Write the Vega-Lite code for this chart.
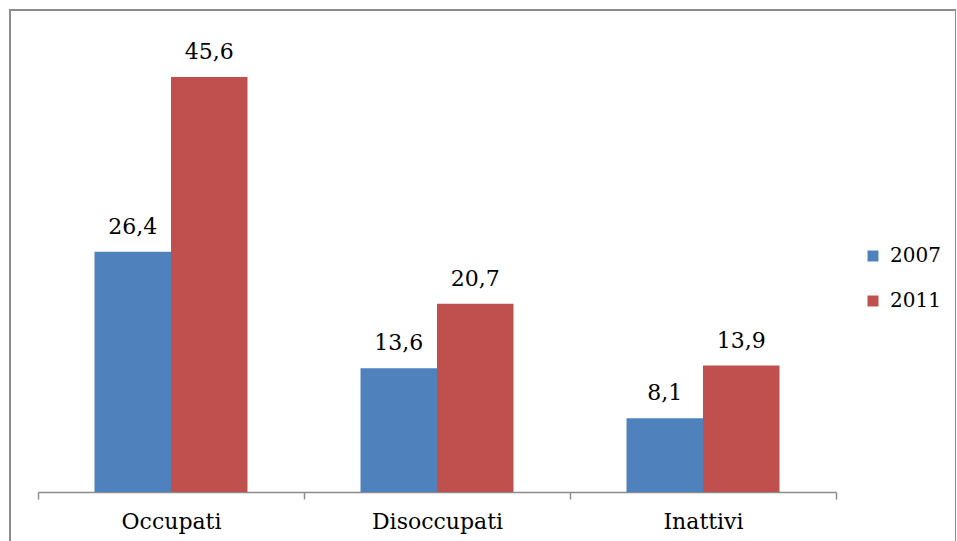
{
  "$schema": "https://vega.github.io/schema/vega-lite/v6.json",
  "autosize": {"type": "none"},
  "padding": {"left": 10, "top": 10, "right": 0, "bottom": 0},
  "width": 946,
  "height": 540,
  "background": "white",
  "config": {
    "view": {"stroke": "#8c8c8c", "strokeWidth": 2},
    "font": "DejaVu Serif"
  },
  "data": {
    "values": [
      {"category": "Occupati", "year": "2007", "value": 26.4, "label": "26,4"},
      {"category": "Occupati", "year": "2011", "value": 45.6, "label": "45,6"},
      {"category": "Disoccupati", "year": "2007", "value": 13.6, "label": "13,6"},
      {"category": "Disoccupati", "year": "2011", "value": 20.7, "label": "20,7"},
      {"category": "Inattivi", "year": "2007", "value": 8.1, "label": "8,1"},
      {"category": "Inattivi", "year": "2011", "value": 13.9, "label": "13,9"}
    ]
  },
  "encoding": {
    "x": {
      "field": "category",
      "type": "nominal",
      "sort": ["Occupati", "Disoccupati", "Inattivi"],
      "scale": {"range": [28, 826], "paddingInner": 0, "paddingOuter": 0},
      "axis": {
        "title": null,
        "orient": "bottom",
        "offset": -58,
        "labelAngle": 0,
        "tickBand": "extent",
        "domainColor": "#8c8c8c",
        "domainWidth": 1.5,
        "tickColor": "#8c8c8c",
        "tickWidth": 1.5,
        "tickSize": 7,
        "labelFont": "DejaVu Serif",
        "labelFontSize": 22,
        "labelColor": "#000000",
        "labelBaseline": "alphabetic",
        "labelPadding": 29
      }
    },
    "xOffset": {
      "field": "year",
      "type": "nominal",
      "scale": {"paddingOuter": 0.739, "paddingInner": 0}
    },
    "y": {
      "field": "value",
      "type": "quantitative",
      "scale": {"domain": [0, 50], "range": [482, 27], "nice": false, "zero": true},
      "axis": null
    }
  },
  "layer": [
    {
      "mark": {"type": "bar"},
      "encoding": {
        "color": {
          "field": "year",
          "type": "nominal",
          "scale": {"domain": ["2007", "2011"], "range": ["#4F81BD", "#C0504D"]},
          "legend": {
            "title": null,
            "orient": "none",
            "legendX": 853,
            "legendY": 236,
            "symbolType": "square",
            "symbolSize": 121,
            "symbolStrokeWidth": 0,
            "labelFont": "DejaVu Serif",
            "labelFontSize": 20,
            "labelColor": "#000000",
            "labelOffset": 7,
            "rowPadding": 25
          }
        }
      }
    },
    {
      "mark": {"type": "text", "baseline": "alphabetic", "dy": -18, "font": "DejaVu Serif", "fontSize": 22, "color": "#000000"},
      "encoding": {"text": {"field": "label"}}
    }
  ]
}
